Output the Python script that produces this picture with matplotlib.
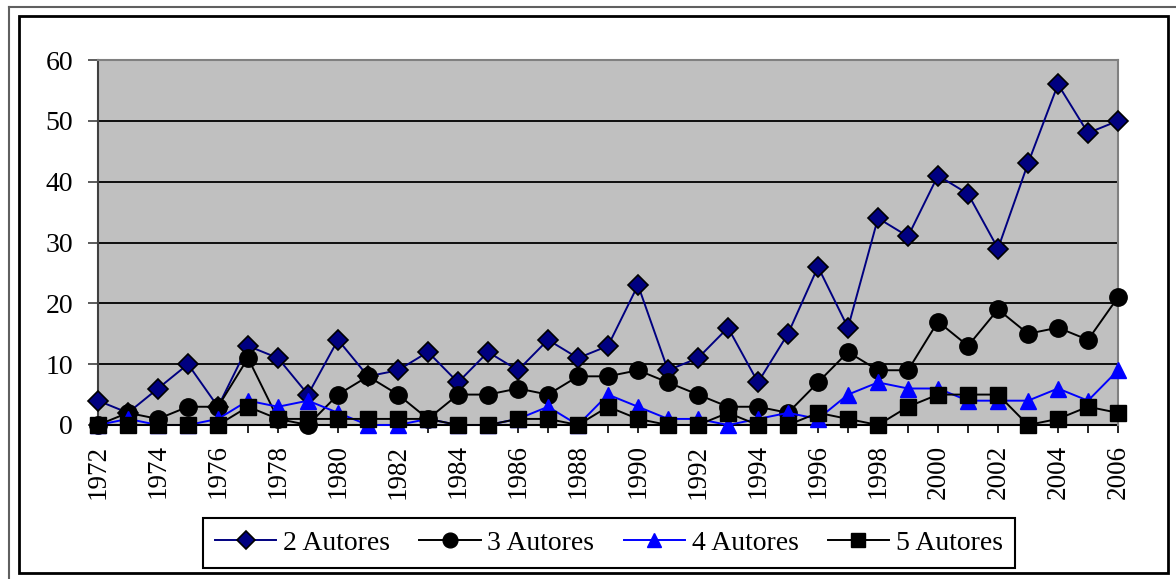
import matplotlib
matplotlib.use("Agg")
import matplotlib.pyplot as plt
from matplotlib.patches import Rectangle
from matplotlib.lines import Line2D

years = list(range(1972, 2007))
autores2 = [4, 2, 6, 10, 3, 13, 11, 5, 14, 8, 9, 12, 7, 12, 9, 14, 11, 13, 23, 9,
            11, 16, 7, 15, 26, 16, 34, 31, 41, 38, 29, 43, 56, 48, 50]
autores3 = [0, 2, 1, 3, 3, 11, 1, 0, 5, 8, 5, 1, 5, 5, 6, 5, 8, 8, 9, 7,
            5, 3, 3, 2, 7, 12, 9, 9, 17, 13, 19, 15, 16, 14, 21]
autores4 = [0, 1, 0, 0, 1, 4, 3, 4, 2, 0, 0, 1, 0, 0, 1, 3, 0, 5, 3, 1,
            1, 0, 1, 2, 1, 5, 7, 6, 6, 4, 4, 4, 6, 4, 9]
autores5 = [0, 0, 0, 0, 0, 3, 1, 1, 1, 1, 1, 1, 0, 0, 1, 1, 0, 3, 1, 0,
            0, 2, 0, 0, 2, 1, 0, 3, 5, 5, 5, 0, 1, 3, 2]
series_labels = ["2 Autores", "3 Autores", "4 Autores", "5 Autores"]
y_ticks = [0, 10, 20, 30, 40, 50, 60]

plt.rcParams['font.family'] = ['Liberation Serif', 'DejaVu Serif']

fig = plt.figure(figsize=(11.76, 5.79), dpi=100)
W, H = 1176, 579

# outer frames
fig.add_artist(Line2D([9 / W, 9 / W], [0, 1 - 7 / H], transform=fig.transFigure,
                      color='#606060', lw=1.5))
fig.add_artist(Line2D([9 / W, 1], [1 - 7 / H, 1 - 7 / H], transform=fig.transFigure,
                      color='#606060', lw=1.5))
fig.add_artist(Rectangle((19 / W, 1 - 573 / H), (1168 - 19) / W, (573 - 16) / H,
                         transform=fig.transFigure, fill=False, edgecolor='black', lw=2))

ax = fig.add_axes([98 / W, 1 - 425 / H, (1118 - 98) / W, (425 - 60) / H])
ax.set_facecolor('#C0C0C0')

styles = [
    dict(color='#000080', marker='D', ms=10.5, mfc='#000080', mec='black', mew=1.2),
    dict(color='black', marker='o', ms=12.5, mfc='black', mec='black'),
    dict(color='#0000FF', marker='^', ms=12, mfc='#0000FF', mec='#0000FF'),
    dict(color='black', marker='s', ms=12, mfc='black', mec='black'),
]
data = [autores2, autores3, autores4, autores5]
handles = []
for vals, lab, st in zip(data, series_labels, styles):
    ln, = ax.plot(years, vals, lw=1.4, label=lab, clip_on=False, zorder=3, **st)
    handles.append(ln)

ax.set_xlim(years[0], years[-1])
ax.set_ylim(0, 60)
ax.set_yticks(y_ticks)
ax.set_xticks(years[::2])
ax.set_xticks(years[1::2], minor=True)
ax.set_xticklabels([str(y) for y in years[::2]], rotation=90)
for y in y_ticks[1:-1]:
    ax.axhline(y, color='black', lw=1.3, zorder=1)

ax.tick_params(axis='y', length=7, width=1.2, pad=11, labelsize=20, color='#404040')
ax.tick_params(axis='x', which='both', length=6, width=1.2, pad=8, labelsize=19.5, color='black')
ax.spines['top'].set_color('#808080')
ax.spines['right'].set_color('#808080')
ax.spines['left'].set_color('#404040')
ax.spines['bottom'].set_color('black')
for s in ax.spines.values():
    s.set_linewidth(1.5)
ax.spines['bottom'].set_zorder(2)

leg = fig.legend(handles=handles, labels=series_labels, ncol=4,
                 loc='center', bbox_to_anchor=((204 + 1014) / 2 / W, 1 - 543 / H),
                 fontsize=20, frameon=True, fancybox=False, edgecolor='black',
                 framealpha=1, borderpad=0.45, handlelength=2.2, handletextpad=0.25,
                 columnspacing=1.05, markerscale=0.85, borderaxespad=0)
leg.get_frame().set_linewidth(1.5)

fig.savefig('out.png', dpi=100)
